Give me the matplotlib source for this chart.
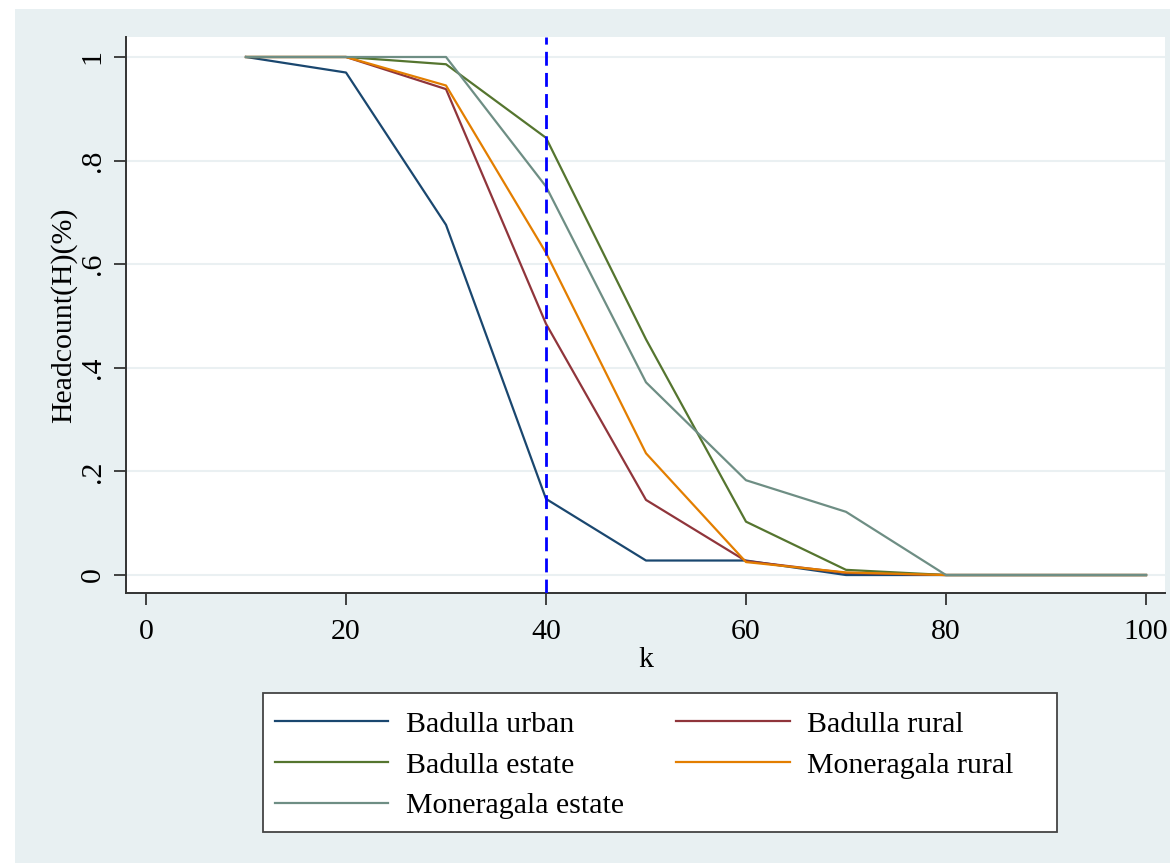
import matplotlib
matplotlib.use("Agg")
import matplotlib.pyplot as plt
from matplotlib.patches import Rectangle

# ---- data ----
k = [10, 20, 30, 40, 50, 60, 70, 80, 90, 100]
badulla_urban = [1, 0.97, 0.676, 0.147, 0.028, 0.028, 0.0, 0.0, 0.0, 0.0]
badulla_rural = [1, 1, 0.938, 0.485, 0.145, 0.027, 0.004, 0.0, 0.0, 0.0]
badulla_estate = [1, 1, 0.986, 0.844, 0.455, 0.103, 0.010, 0.0, 0.0, 0.0]
moneragala_rural = [1, 1, 0.945, 0.622, 0.235, 0.025, 0.005, 0.0, 0.0, 0.0]
moneragala_estate = [1, 1, 1.0, 0.750, 0.372, 0.183, 0.122, 0.0, 0.0, 0.0]
series_names = ["Badulla urban", "Badulla rural", "Badulla estate",
                "Moneragala rural", "Moneragala estate"]
cutoff_k = 40
xticks = [0, 20, 40, 60, 80, 100]
yticks = [0, 0.2, 0.4, 0.6, 0.8, 1.0]
ytick_labels = ["0", ".2", ".4", ".6", ".8", "1"]

colors = ["#1a476f", "#90353b", "#55752f", "#e37e00", "#6e8e84"]

plt.rcParams['font.family'] = ['Liberation Serif', 'DejaVu Serif']
FS = 21.5
W, H = 1170, 863

fig = plt.figure(figsize=(11.7, 8.63), dpi=100, facecolor="white")
# Stata-like light background band
fig.patches.append(Rectangle((15 / W, 0), 1 - 15 / W, 1 - 9 / H,
                             transform=fig.transFigure, facecolor="#e8f0f2",
                             edgecolor="none", zorder=-10))
# legend frame
fig.patches.append(Rectangle((263 / W, 1 - 832 / H), (1057 - 263) / W, (832 - 693) / H,
                             transform=fig.transFigure, facecolor="white",
                             edgecolor="#444444", lw=1.3, zorder=-5))

ax = fig.add_axes([126 / W, 1 - 593 / H, (1165 - 126) / W, (593 - 37) / H])
ax.set_facecolor("white")

series = [badulla_urban, badulla_rural, badulla_estate, moneragala_rural, moneragala_estate]
handles = []
for vals, name, c in zip(series, series_names, colors):
    h, = ax.plot(k, vals, color=c, lw=1.6, label=name)
    handles.append(h)

ax.axvline(cutoff_k, color="#0000ff", lw=2.0, ls=(0, (5, 2.6)), zorder=5)

ax.set_xlim(-2, 101.9)
ax.set_ylim(-0.0347, 1.0386)
ax.set_xticks(xticks)
ax.set_xticklabels([str(v) for v in xticks], fontsize=FS)
ax.set_yticks(yticks)
ax.set_yticklabels(ytick_labels, fontsize=FS, rotation=90, va='center')
ax.tick_params(axis='both', length=8.5, width=1.3, color="#333333")
ax.tick_params(axis='x', pad=10)
ax.tick_params(axis='y', pad=6)
ax.grid(axis='y', color="#eaf0f2", lw=1.5)
ax.set_axisbelow(True)

for s in ["top", "right"]:
    ax.spines[s].set_visible(False)
for s in ["left", "bottom"]:
    ax.spines[s].set_linewidth(1.4)
    ax.spines[s].set_color("#333333")

ax.set_xlabel("k", fontsize=FS, labelpad=2)
ax.set_ylabel("Headcount(H)(%)", fontsize=FS, labelpad=2)

order = [0, 2, 4, 1, 3]
leg = fig.legend([handles[i] for i in order], [series_names[i] for i in order],
                 loc='upper left', bbox_to_anchor=(275 / W, 1 - 711 / H),
                 ncol=2, fontsize=FS, frameon=False, handlelength=3.8,
                 handletextpad=0.58, columnspacing=1.75, labelspacing=0.46,
                 borderpad=0, borderaxespad=0)

fig.savefig("out.png", dpi=100, facecolor="white")
